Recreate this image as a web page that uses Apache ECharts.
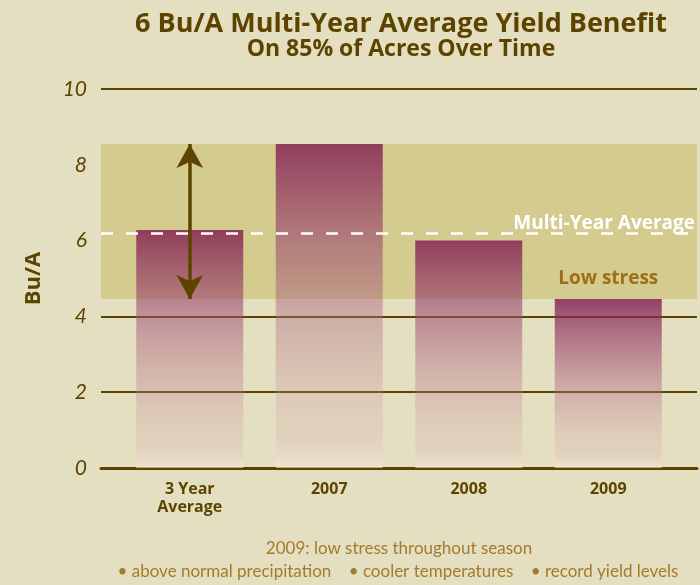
<!DOCTYPE html>
<html><head><meta charset="utf-8">
<style>html,body{margin:0;padding:0;background:#e5dfc1;}#c{width:700px;height:585px;}</style>
<script src="https://cdn.jsdelivr.net/npm/echarts@6/dist/echarts.min.js"></script>
</head><body><div id="c"></div>
<script>
var categories = ['3 Year\nAverage', '2007', '2008', '2009'];
var yieldValues = [6.28, 8.55, 6.0, 4.46];
var yTicks = [0, 2, 4, 6, 8, 10];
var bandRange = [4.46, 8.55];
var multiYearAverage = 6.2;
var arrowRange = [8.55, 4.46];
var lowStressAt = 5.0;

var FONT = 'Open Sans';
var FONT2 = 'Lato';
var BROWN = '#5c4400';
var chart = echarts.init(document.getElementById('c'), null, {renderer: 'canvas'});
var barColor = new echarts.graphic.LinearGradient(0, 0, 0, 1, [
  {offset: 0, color: 'rgba(128,25,80,0.8)'},
  {offset: 0.85, color: 'rgba(200,150,160,0.2)'},
  {offset: 1, color: 'rgba(244,238,218,0.6)'}
]);
chart.setOption({
  backgroundColor: '#e5dfc1',
  animation: false,
  title: {
    text: '6 Bu/A Multi-Year Average Yield Benefit',
    subtext: 'On 85% of Acres Over Time',
    left: 396, top: 6, textAlign: 'center', itemGap: 0,
    textStyle: {fontFamily: FONT, fontWeight: 'bold', fontSize: 27, color: BROWN},
    subtextStyle: {fontFamily: FONT, fontWeight: 'bold', fontSize: 23, color: BROWN}
  },
  grid: [
    {left: 101, right: 3, top: 89, bottom: 117},
    {left: 120, right: 22, top: 89, bottom: 117}
  ],
  xAxis: [
    {type: 'value', gridIndex: 0, min: 0, max: 1, show: true,
      axisLabel: {show: false}, axisTick: {show: false}, splitLine: {show: false},
      axisLine: {show: true, lineStyle: {color: BROWN, width: 3}}},
    {type: 'category', gridIndex: 1, data: categories,
      axisLine: {show: false}, axisTick: {show: false},
      axisLabel: {fontFamily: FONT, fontWeight: 'bold', fontSize: 16, color: BROWN, lineHeight: 18, margin: 12}}
  ],
  yAxis: [
    {type: 'value', gridIndex: 0, min: 0, max: 10, interval: 2,
      name: 'Bu/A', nameLocation: 'middle', nameGap: 56, nameRotate: 90,
      nameTextStyle: {fontFamily: FONT, fontWeight: 'bold', fontSize: 22, color: BROWN},
      axisLine: {show: false}, axisTick: {show: false},
      axisLabel: {fontFamily: FONT2, fontStyle: 'italic', fontSize: 21, color: BROWN, margin: 14,
        formatter: function (v) { return yTicks.indexOf(v) >= 0 ? String(v) : ''; }},
      splitLine: {lineStyle: {color: BROWN, width: 2}}},
    {type: 'value', gridIndex: 1, min: 0, max: 10, interval: 2, show: false, splitLine: {show: false}}
  ],
  series: [
    {type: 'line', xAxisIndex: 0, yAxisIndex: 0, data: [[0, 0]], symbol: 'none', z: 1,
      lineStyle: {opacity: 0}, silent: true,
      markArea: {silent: true, itemStyle: {color: '#d4cb8f'},
        data: [[{yAxis: bandRange[0]}, {yAxis: bandRange[1]}]]}},
    {type: 'bar', xAxisIndex: 1, yAxisIndex: 1, data: yieldValues, barWidth: 107, z: 3,
      itemStyle: {color: barColor},
      markPoint: {symbol: 'circle', symbolSize: 0, silent: true,
        label: {show: true, formatter: 'Low stress', fontFamily: FONT, fontWeight: 'bold', fontSize: 19, color: '#a06d18', position: 'inside'},
        data: [{coord: [categories[3], lowStressAt]}]}},
    {type: 'line', xAxisIndex: 0, yAxisIndex: 0, data: [[0, 0]], symbol: 'none', z: 5,
      lineStyle: {opacity: 0}, silent: true,
      markLine: {silent: true, symbol: 'none',
        lineStyle: {color: '#ffffff', type: [12, 13], width: 2.5},
        label: {show: true, position: 'insideEndTop', formatter: 'Multi-Year Average', distance: [2, 0],
          fontFamily: FONT, fontWeight: 'bold', fontSize: 19, color: '#ffffff'},
        data: [{yAxis: multiYearAverage}]}},
    {type: 'line', xAxisIndex: 1, yAxisIndex: 1, data: [[categories[0], 0]], symbol: 'none', z: 6,
      lineStyle: {opacity: 0}, silent: true,
      markLine: {silent: true, symbol: ['arrow', 'arrow'], symbolSize: [20, 24],
        lineStyle: {color: BROWN, type: 'solid', width: 3.5}, label: {show: false},
        data: [[{coord: [categories[0], arrowRange[0]]}, {coord: [categories[0], arrowRange[1]]}]]}}
  ],
  graphic: [
    {type: 'text', x: 399, y: 540, style: {text: '2009: low stress throughout season', textAlign: 'center', fontFamily: FONT2, fontSize: 17, fill: '#a47a2c'}},
    {type: 'text', x: 398, y: 563, style: {text: '\u2022 above normal precipitation    \u2022 cooler temperatures    \u2022 record yield levels', textAlign: 'center', fontFamily: FONT2, fontSize: 17, fill: '#a47a2c'}}
  ]
});
</script></body></html>
